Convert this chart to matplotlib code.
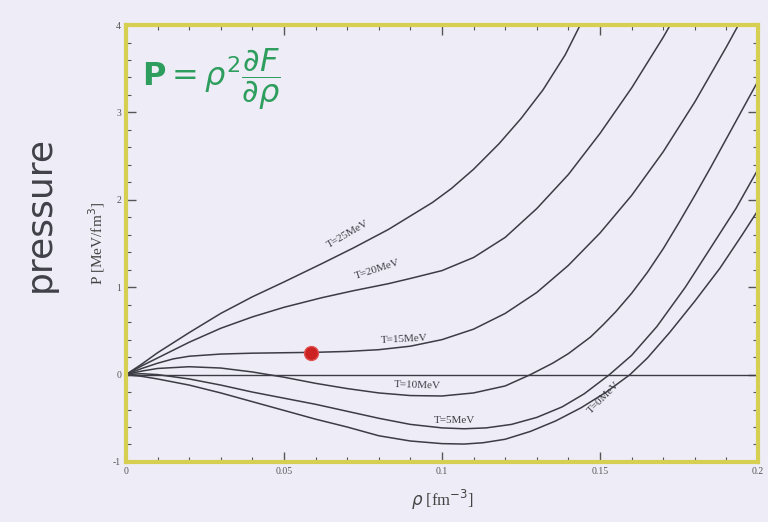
import matplotlib
matplotlib.use("Agg")
import matplotlib.pyplot as plt
from matplotlib.ticker import MultipleLocator

# pressure isotherms, density in fm^-3, pressure in MeV/fm^3
rho_25 = [0, 0.005, 0.01, 0.02, 0.03, 0.04, 0.05, 0.062, 0.072, 0.083, 0.097,
          0.103, 0.11, 0.118, 0.125, 0.132, 0.139, 0.144]
p_25 = [0, 0.12, 0.25, 0.48, 0.70, 0.89, 1.06, 1.27, 1.45, 1.66, 1.97,
        2.13, 2.35, 2.64, 2.93, 3.26, 3.66, 4.02]

rho_20 = [0, 0.005, 0.01, 0.02, 0.03, 0.04, 0.05, 0.062, 0.072, 0.083, 0.09,
          0.1, 0.11, 0.12, 0.13, 0.14, 0.15, 0.16, 0.17, 0.173]
p_20 = [0, 0.10, 0.19, 0.37, 0.53, 0.66, 0.77, 0.88, 0.96, 1.04, 1.10,
        1.19, 1.34, 1.57, 1.90, 2.29, 2.76, 3.28, 3.86, 4.05]

rho_15 = [0, 0.005, 0.01, 0.015, 0.02, 0.03, 0.04, 0.05, 0.06, 0.07, 0.08,
          0.09, 0.1, 0.11, 0.12, 0.13, 0.14, 0.15, 0.16, 0.17, 0.18,
          0.19, 0.195]
p_15 = [0, 0.07, 0.13, 0.18, 0.21, 0.235, 0.245, 0.25, 0.255, 0.265, 0.285,
        0.325, 0.40, 0.52, 0.70, 0.94, 1.25, 1.62, 2.05, 2.55, 3.12,
        3.75, 4.08]

rho_10 = [0, 0.005, 0.01, 0.02, 0.03, 0.04, 0.05, 0.06, 0.07, 0.08, 0.09,
          0.1, 0.11, 0.12, 0.128, 0.135, 0.14, 0.147, 0.151, 0.155, 0.16,
          0.165, 0.17, 0.175, 0.18, 0.185, 0.19, 0.195, 0.2]
p_10 = [0, 0.04, 0.07, 0.09, 0.075, 0.03, -0.03, -0.10, -0.16, -0.21, -0.24,
        -0.245, -0.21, -0.13, 0.0, 0.13, 0.24, 0.43, 0.57, 0.72, 0.93,
        1.17, 1.44, 1.74, 2.05, 2.37, 2.70, 3.03, 3.36]

rho_5 = [0, 0.005, 0.01, 0.02, 0.03, 0.04, 0.05, 0.06, 0.07, 0.08, 0.09,
         0.1, 0.107, 0.114, 0.122, 0.13, 0.138, 0.145, 0.153, 0.16, 0.168,
         0.177, 0.185, 0.193, 0.2]
p_5 = [0, 0.01, 0.0, -0.05, -0.12, -0.20, -0.27, -0.34, -0.42, -0.50, -0.57,
       -0.61, -0.62, -0.61, -0.57, -0.49, -0.37, -0.22, 0.0, 0.22, 0.55,
       1.0, 1.45, 1.9, 2.35]

rho_0 = [0, 0.005, 0.01, 0.02, 0.03, 0.04, 0.05, 0.06, 0.07, 0.08, 0.09,
         0.1, 0.107, 0.113, 0.12, 0.128, 0.136, 0.144, 0.152, 0.1595, 0.165,
         0.172, 0.18, 0.188, 0.195, 0.2]
p_0 = [0, -0.02, -0.05, -0.12, -0.21, -0.31, -0.41, -0.51, -0.60, -0.70, -0.76,
       -0.79, -0.795, -0.78, -0.74, -0.65, -0.53, -0.38, -0.20, 0.0, 0.19,
       0.48, 0.84, 1.22, 1.60, 1.88]

curves = [(rho_25, p_25), (rho_20, p_20), (rho_15, p_15),
          (rho_10, p_10), (rho_5, p_5), (rho_0, p_0)]

# curve labels: text, x, y, rotation
labels = [("T=25MeV", 0.071, 1.56, 30),
          ("T=20MeV", 0.080, 1.15, 18),
          ("T=15MeV", 0.088, 0.35, 3),
          ("T=10MeV", 0.092, -0.18, -2),
          ("T=5MeV", 0.104, -0.58, 0),
          ("T=0MeV", 0.152, -0.30, 45)]

marked_rho = 0.0586
marked_p = 0.245

bg = "#eeedf7"
ink = "#3c3c44"
yellow = "#d6cf52"

fig = plt.figure(figsize=(7.68, 5.22), dpi=100, facecolor=bg)
ax = fig.add_axes([0.164, 0.115, 0.823, 0.837], facecolor=bg)

for rho, p in curves:
    ax.plot(rho, p, color=ink, lw=1.1)
ax.plot([0, 0.2], [0, 0], color=ink, lw=1.0)

for txt, x, y, rot in labels:
    ax.text(x, y, txt, fontsize=8, family="Liberation Serif", color=ink,
            rotation=rot, ha="center", va="bottom", rotation_mode="anchor")

ax.plot(marked_rho, marked_p, "o", color="#cc2222", markersize=10,
        markeredgecolor="#e05050", zorder=5)

ax.set_xlim(0, 0.2)
ax.set_ylim(-1, 4)
ax.xaxis.set_minor_locator(MultipleLocator(0.01))
ax.yaxis.set_minor_locator(MultipleLocator(0.2))
ax.set_xticks([0, 0.05, 0.1, 0.15, 0.2])
ax.set_xticklabels(["0", "0.05", "0.1", "0.15", "0.2"])
ax.set_yticks([-1, 0, 1, 2, 3, 4])
ax.set_yticklabels(["-1", "0", "1", "2", "3", "4"])
ax.tick_params(which="both", direction="in", top=True, right=True,
               color="#555555", labelsize=7, labelcolor="#555555")
ax.tick_params(which="major", length=7, width=1)
ax.tick_params(which="minor", length=3.5, width=0.8)
for lab in ax.get_xticklabels() + ax.get_yticklabels():
    lab.set_family("Liberation Serif")

for side in ax.spines.values():
    side.set_color(yellow)
    side.set_linewidth(3)

ax.set_xlabel(r"$\rho$ [fm$^{-3}$]", fontsize=12, family="Liberation Serif",
              color="#444444", labelpad=9)
ax.set_ylabel(r"P [MeV/fm$^{3}$]", fontsize=11, family="Liberation Serif",
              color="#444444", labelpad=4)

# handwritten notes
fig.text(0.052, 0.59, "pressure", rotation=90, fontsize=26, color="#404048",
         ha="center", va="center", family="DejaVu Sans", fontweight="medium")
ax.text(0.005, 3.38, r"$\mathbf{P}=\rho^{2}\dfrac{\partial F}{\partial\rho}$",
        fontsize=23, color="#2e9e5e", ha="left", va="center")

fig.savefig("out.png", dpi=100, facecolor=bg)
